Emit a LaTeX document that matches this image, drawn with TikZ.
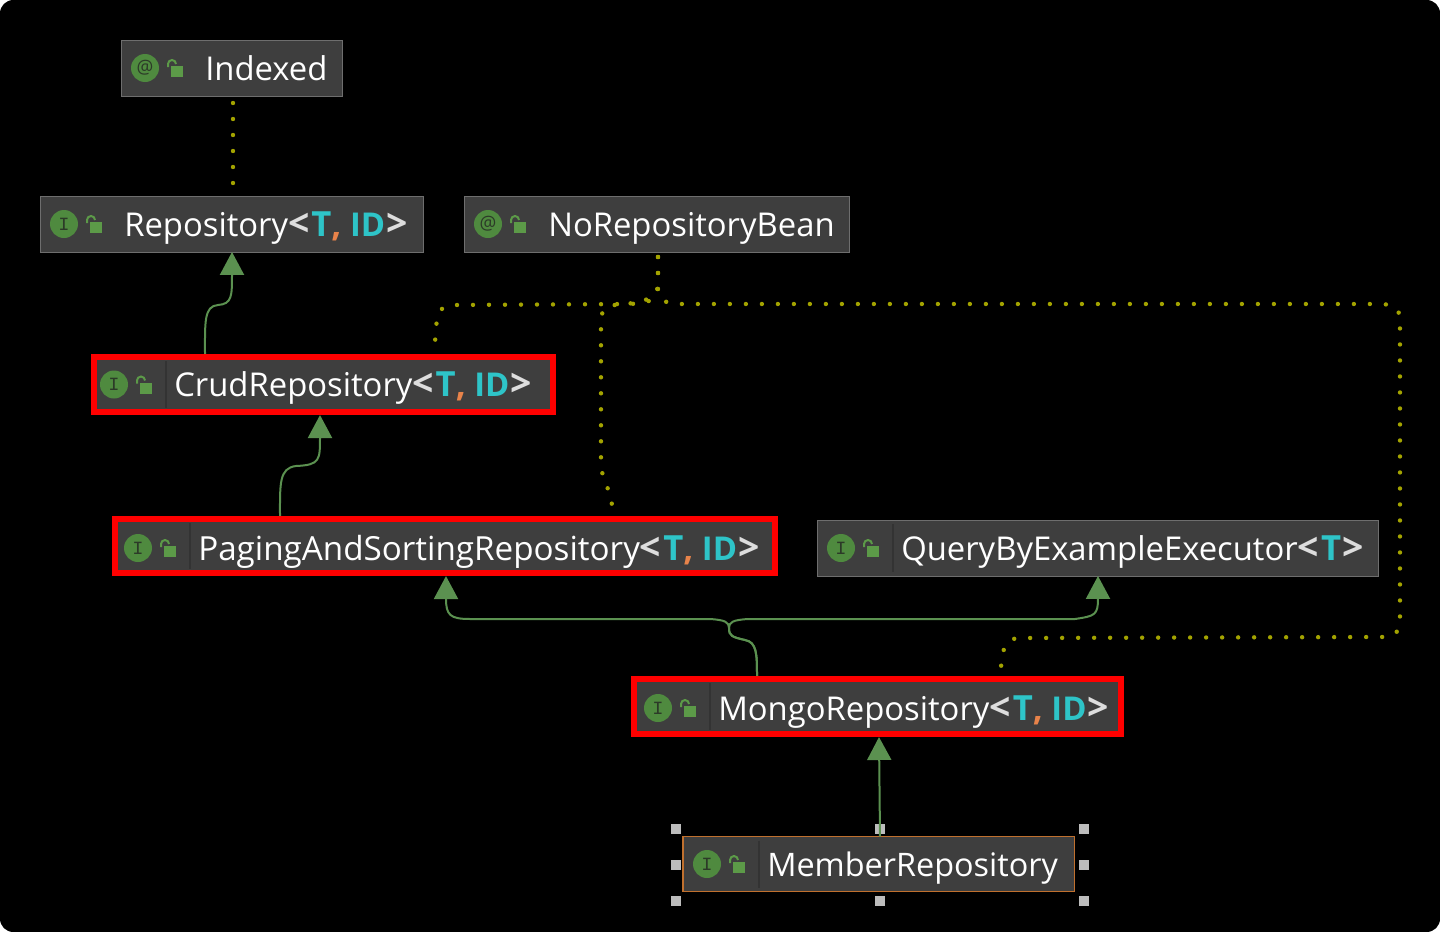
\documentclass[tikz,border=0pt]{standalone}
\usepackage{fontspec}
\setmainfont{Open Sans}
\usetikzlibrary{arrows.meta,calc}
\definecolor{boxgray}{HTML}{3E3E3E}
\definecolor{boxedge}{HTML}{6E6E6E}
\definecolor{divgray}{HTML}{333333}
\definecolor{icongreen}{HTML}{4F8A3F}
\definecolor{lockgreen}{HTML}{5C9A48}
\definecolor{edgegreen}{HTML}{5B9150}
\definecolor{dotolive}{HTML}{A3A300}
\definecolor{tealgen}{HTML}{2EC4C8}
\definecolor{orangegen}{HTML}{E8834A}
\definecolor{anglegray}{HTML}{DDDDDD}
\definecolor{handlegray}{HTML}{BDBDBD}
\definecolor{selorange}{HTML}{C0702E}
\definecolor{glyphdark}{HTML}{2C3A28}
\tikzset{
  classbox/.style={rectangle,fill=boxgray,draw=boxedge,line width=0.75pt,inner sep=0pt,outer sep=0pt},
  redbox/.style={classbox,draw=red,line width=4.6pt,outer sep=2.3pt},
  selbox/.style={classbox,draw=selorange,line width=1pt},
  icondisc/.style={circle,fill=icongreen,minimum size=21pt,inner sep=0pt,text=glyphdark},
  classlabel/.style={anchor=base west,inner sep=0pt,text=white},
  inherit/.style={draw=edgegreen,line width=1.5pt,-{Triangle[length=17.2pt,width=18pt,fill=edgegreen]}},
  dotted link/.style={draw=dotolive,line width=3.3pt,line cap=round,dash pattern=on 0pt off 12pt},
  handle/.style={rectangle,fill=handlegray,minimum size=7.5pt,inner sep=0pt},
}
\def\yadj{0}
\def\divcol{boxgray}
\newfontfamily\glyphfont{Liberation Mono}
% #1 name, #2 style, #3 l, #4 t, #5 r, #6 b, #7 icon-left, #8 glyph, #9 text
\newcommand{\classnode}[9]{%
  \pgfmathsetmacro{\cxx}{(#3+#5)/2}\pgfmathsetmacro{\cyy}{(#4+#6)/2}%
  \pgfmathsetmacro{\ciy}{\cyy+\yadj}%
  \pgfmathsetmacro{\cww}{(#5-#3)*0.75}\pgfmathsetmacro{\chh}{(#6-#4)*0.75}%
  \node[#2,minimum width=\cww pt,minimum height=\chh pt] (#1) at (\cxx,\cyy) {};
  \draw[\divcol,line width=1pt] (#7+76,#4+4) -- (#7+76,#6-4);
  \node[icondisc] (#1-icon) at (#7+24,\ciy) {\fontsize{14}{14}\selectfont #8};
  \fill[lockgreen] (#7+50,\ciy-2) rectangle (#7+62,\ciy+9);
  \draw[lockgreen,line width=1.5pt] (#7+47,\ciy-1) -- (#7+47,\ciy-4) arc[start angle=180,end angle=0,x radius=4,y radius=-4];
  \node[classlabel] (#1-label) at (#7+84,\ciy+12) {\fontsize{24.6}{28}\selectfont #9};
}
\newcommand{\ang}[1]{\textcolor{anglegray}{\fontsize{28}{28}\selectfont\bfseries #1}}
\newcommand{\gen}[1]{\ang{<}\kern1.5pt #1\kern1pt\ang{>}}
\newcommand{\tp}[1]{\textcolor{tealgen}{\fontsize{26}{28}\selectfont\bfseries #1}}
\newcommand{\idp}{\textcolor{tealgen}{\fontsize{24.6}{28}\selectfont\bfseries ID}}
\newcommand{\cm}{\textcolor{orangegen}{\fontsize{26}{28}\selectfont\bfseries ,}}
\begin{document}
\begin{tikzpicture}[x=0.75pt,y=-0.75pt]
\useasboundingbox (0,0) rectangle (1440,932);
\fill[white] (0,0) rectangle (1440,932);
\fill[black,rounded corners=10pt] (0,0) rectangle (1440,932);

\classnode{indexed}{classbox}{121}{40}{342.5}{96}{121}{@}{Indexed}
\classnode{repo}{classbox}{40}{196}{423.5}{252}{40}{\glyphfont I}{Repository\gen{\tp{T}\cm\ \idp}}
\classnode{norepo}{classbox}{464}{196}{849.5}{252}{464}{@}{NoRepositoryBean}
\def\divcol{divgray}
\classnode{crud}{redbox}{94}{357}{553}{412}{90}{\glyphfont I}{CrudRepository\gen{\tp{T}\cm\ \idp}}
\def\yadj{2}
\classnode{paging}{redbox}{115}{519}{775}{573}{114}{\glyphfont I}{{\fontsize{24.9}{28}\selectfont PagingAndSortingRepository}\gen{\tp{T}\cm\ \idp}}
\def\yadj{0}
\classnode{query}{classbox}{817}{520}{1378.5}{576}{817}{\glyphfont I}{QueryByExampleExecutor\gen{\tp{T}}}
\def\yadj{1.5}
\classnode{mongo}{redbox}{634}{679}{1121}{734}{634}{\glyphfont I}{MongoRepository\gen{\tp{T}\cm\ \idp}}
\def\yadj{0}
\classnode{member}{selbox}{683}{836.5}{1074.5}{891.5}{683}{\glyphfont I}{{\fontsize{24.3}{28}\selectfont MemberRepository}}

% selection handles
\foreach \hn/\hx/\hy in {a/676/829,b/880/829,c/1084/829,d/676/865,e/1084/865,f/676/901,g/880/901,h/1084/901}
  \node[handle] (handle-\hn) at (\hx,\hy) {};

% inheritance
\draw[inherit] (crud.north -| 205,0) .. controls (205,322) and (204,306) .. (218,305)
   .. controls (232,304) and (232,296) .. (repo.south -| 232,0);
\draw[inherit] (paging.north -| 280,0) .. controls (280,484) and (279,468) .. (296,466)
   .. controls (320,465) and (320,460) .. (crud.south -| 320,0);
\draw[inherit] (mongo.north -| 757,0) .. controls (757,655) and (757,642) .. (745,640)
   .. controls (732,637) and (729,636) .. (729,628)
   .. controls (729,622) and (725,620) .. (710,619) -- (470,619)
   .. controls (450,619) and (446,615) .. (paging.south -| 446,0);
\draw[inherit] (mongo.north -| 757,0) .. controls (757,655) and (757,642) .. (745,640)
   .. controls (732,637) and (729,636) .. (729,628)
   .. controls (729,622) and (733,620) .. (748,619) -- (1075,619)
   .. controls (1095,616) and (1098,615) .. (query.south -| 1098,0);
\draw[inherit] (member.north -| 880,0) -- (mongo.south -| 879,0);

% dotted dependencies
\coordinate (dotA) at (233,103);
\coordinate (dotB) at (233,184);
\draw[dotted link] (dotA) -- (dotB);
\coordinate (nrStart) at (658,257);
\coordinate (crudEnd) at (435,345);
\coordinate (pagEnd) at (612,508);
\coordinate (monEnd) at (1001,668);
\draw[dotted link] (nrStart) -- (658,285) .. controls (658,300) and (650,303) .. (630,304) -- (455,305) .. controls (440,305) and (436,310) .. (crudEnd);
\draw[dotted link] (nrStart) -- (658,285) .. controls (657,300) and (640,303) .. (615,305) .. controls (604,306) and (601,312) .. (601,322) -- (601,465) .. controls (603,485) and (612,490) .. (pagEnd);
\draw[dotted link] (nrStart) -- (658,290) .. controls (660,300) and (665,304) .. (680,304) -- (1380,304) .. controls (1395,304) and (1400,310) .. (1400,320) -- (1400,620) .. controls (1400,632) and (1395,637) .. (1380,637) -- (1020,638) .. controls (1008,638) and (1002,645) .. (monEnd);
\end{tikzpicture}
\end{document}
